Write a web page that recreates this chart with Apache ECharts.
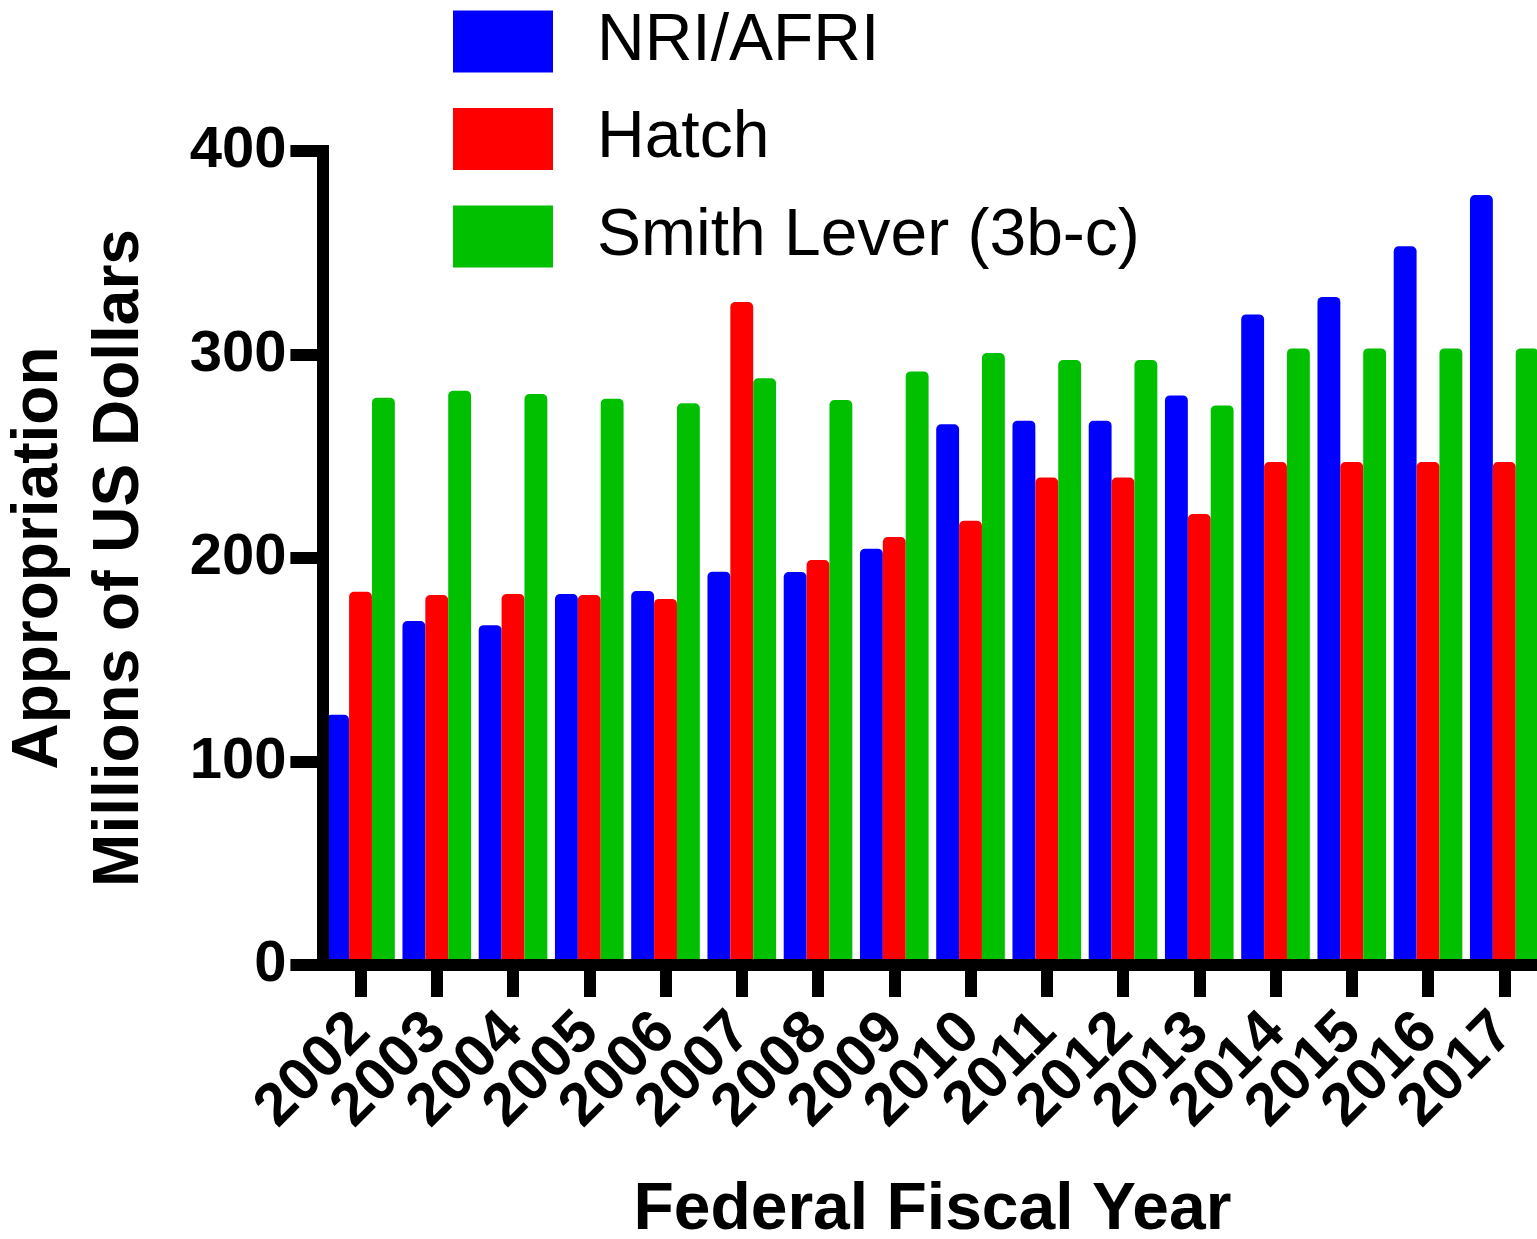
<!DOCTYPE html>
<html>
<head>
<meta charset="utf-8">
<script src="https://cdn.jsdelivr.net/npm/echarts@6/dist/echarts.min.js"></script>
<style>
html,body{margin:0;padding:0;background:#fff;}
#chart{width:1537px;height:1239px;}
</style>
</head>
<body>
<div id="chart"></div>
<script>
const years = ['2002','2003','2004','2005','2006','2007','2008','2009','2010','2011','2012','2013','2014','2015','2016','2017'];
const nriAfri = [123, 169, 167, 182.3, 183.8, 193.3, 193.1, 204.6, 265.7, 267.5, 267.5, 279.9, 319.7, 328.3, 353.2, 378.4];
const hatch = [183.4, 181.8, 182.3, 181.8, 179.9, 325.8, 199.0, 210.3, 218.3, 239.5, 239.6, 221.6, 247.2, 247.2, 247.2, 247.2];
const smithLever = [278.8, 282.2, 280.6, 278.3, 276.0, 288.3, 277.6, 291.7, 300.7, 297.3, 297.3, 275.0, 303.0, 303.0, 303.0, 303.0];
const yTicks = [0, 100, 200, 300, 400];

const FONT = '"Liberation Sans", Arial, sans-serif';
const chart = echarts.init(document.getElementById('chart'), null, {renderer: 'canvas'});
const bar = (name, data, color) => ({
  name: name, type: 'bar', data: data,
  barGap: '0%', barCategoryGap: '10%',
  itemStyle: {color: color, borderRadius: [5, 5, 0, 0]}
});
chart.setOption({
  animation: false,
  backgroundColor: '#fff',
  textStyle: {fontFamily: FONT},
  legend: {
    orient: 'vertical', left: 453, top: 8.5, padding: 0,
    itemWidth: 100, itemHeight: 62, itemGap: 31.5, icon: 'rect',
    selectedMode: false,
    textStyle: {fontSize: 66, color: '#000', fontFamily: FONT, lineHeight: 62, padding: [0, 0, 0, 39]},
    data: ['NRI/AFRI', 'Hatch', 'Smith Lever (3b-c)']
  },
  grid: {left: 322.4, top: 151, width: 1220, height: 814, containLabel: false, outerBoundsMode: 'none'},
  xAxis: {
    type: 'category', data: years, z: 10,
    name: 'Federal Fiscal Year', nameLocation: 'middle', nameGap: 213,
    nameTextStyle: {fontSize: 66, fontWeight: 'bold', color: '#000', fontFamily: FONT},
    axisLine: {show: true, lineStyle: {color: '#000', width: 12, cap: 'square'}},
    axisTick: {show: true, alignWithLabel: true, length: 32, lineStyle: {color: '#000', width: 12}},
    axisLabel: {interval: 0, rotate: 45, margin: 58, fontSize: 60, fontWeight: 'bold', color: '#000', fontFamily: FONT},
    splitLine: {show: false}
  },
  yAxis: {
    type: 'value', min: yTicks[0], max: yTicks[yTicks.length - 1], interval: 100, z: 10,
    name: 'Appropriation\nMillions of US Dollars', nameLocation: 'middle', nameGap: 162, nameRotate: 90,
    nameTextStyle: {fontSize: 64, fontWeight: 'bold', color: '#000', lineHeight: 81, fontFamily: FONT},
    axisLine: {show: true, lineStyle: {color: '#000', width: 12, cap: 'square'}},
    axisTick: {show: true, length: 32, lineStyle: {color: '#000', width: 12}},
    axisLabel: {margin: 36, fontSize: 58, fontWeight: 'bold', color: '#000', fontFamily: FONT},
    splitLine: {show: false}
  },
  series: [
    bar('NRI/AFRI', nriAfri, '#0000FF'),
    bar('Hatch', hatch, '#FF0000'),
    bar('Smith Lever (3b-c)', smithLever, '#00C000')
  ]
});
</script>
</body>
</html>
